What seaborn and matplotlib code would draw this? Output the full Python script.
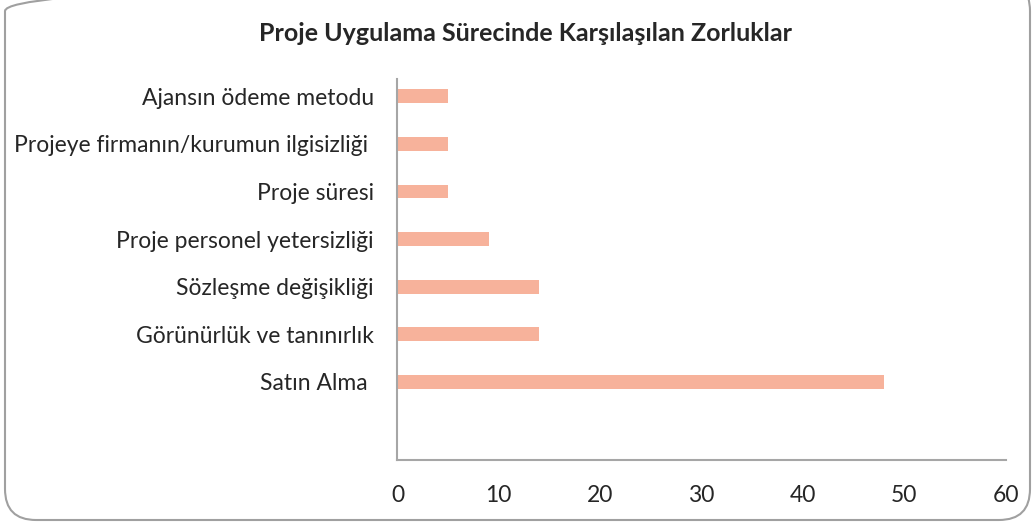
import matplotlib
matplotlib.use("Agg")
import matplotlib.pyplot as plt
import seaborn as sns
import pandas as pd
from matplotlib.patches import FancyBboxPatch

# data (top to bottom as shown)
categories = [
    "Ajansın ödeme metodu",
    "Projeye firmanın/kurumun ilgisizliği ",
    "Proje süresi",
    "Proje personel yetersizliği",
    "Sözleşme değişikliği",
    "Görünürlük ve tanınırlık",
    "Satın Alma ",
]
values = [5, 5, 5, 9, 14, 14, 48]
x_ticks = [0, 10, 20, 30, 40, 50, 60]

df = pd.DataFrame({"Zorluk": categories, "Sayi": values})

sns.set_style("white")
plt.rcParams["font.family"] = ["Lato", "DejaVu Sans"]
text_color = "#262626"
axis_color = "#A6A6A6"

fig = plt.figure(figsize=(10.35, 5.24), dpi=100)
ax = fig.add_axes([0.384, 0.122, 0.5875, 0.727])

sns.barplot(data=df, x="Sayi", y="Zorluk", color="#F7B29B", width=0.29,
            linewidth=0, saturation=1, ax=ax)

ax.set_xlim(0, 60)
ax.set_xticks(x_ticks)
ax.set_ylim(7.64, -0.36)
ax.set_xlabel("")
ax.set_ylabel("")
ax.tick_params(axis="both", length=0, labelsize=16.5, colors=text_color)
ax.tick_params(axis="y", pad=17)
ax.tick_params(axis="x", pad=18)
for side in ["top", "right"]:
    ax.spines[side].set_visible(False)
for side in ["left", "bottom"]:
    ax.spines[side].set_color(axis_color)
    ax.spines[side].set_linewidth(1.5)

fig.text(0.508, 0.937, "Proje Uygulama Sürecinde Karşılaşılan Zorluklar",
         ha="center", va="center", fontsize=18, fontweight="bold", color=text_color)

# rounded outer border
border = FancyBboxPatch((5 / 1035, 4 / 524), 1025 / 1035, 540 / 524,
                        boxstyle="round,pad=0,rounding_size=0.03",
                        transform=fig.transFigure, fill=False,
                        edgecolor="#A0A0A0", linewidth=1.5, clip_on=False,
                        mutation_aspect=1035 / 524)
fig.patches.append(border)

fig.savefig("out.png", dpi=100, facecolor="white")
